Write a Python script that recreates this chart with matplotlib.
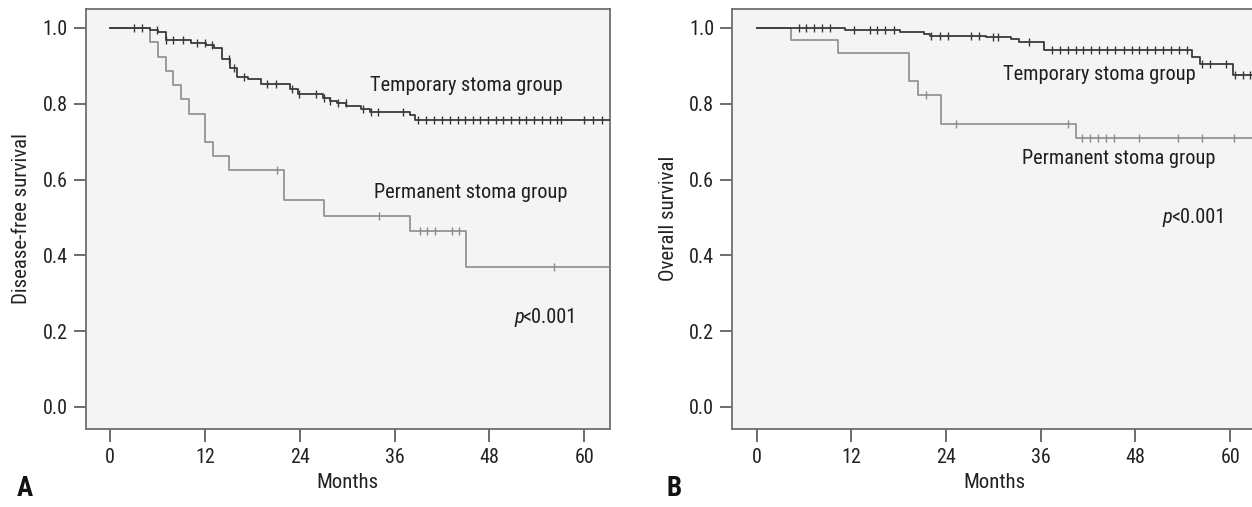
import os
import numpy as np
import matplotlib
matplotlib.use("Agg")
import matplotlib.pyplot as plt
from matplotlib import font_manager as fm
from matplotlib.font_manager import FontProperties

# ---------------- data ----------------
# Panel A: disease-free survival
a_temp_times = [0, 5.0, 6.1, 7.0, 10.2, 12.1, 13.1, 14.1, 15.2, 16.1, 17.5, 19.1,
                22.8, 23.8, 26.9, 27.8, 28.7, 29.9, 31.8, 32.9, 37.9, 38.6]
a_temp_surv = [1.0, 0.995, 0.988, 0.968, 0.959, 0.955, 0.946, 0.917, 0.893, 0.871,
               0.864, 0.851, 0.838, 0.825, 0.814, 0.808, 0.801, 0.794, 0.787, 0.778,
               0.770, 0.758]
a_temp_cens = [3.0, 4.0, 5.9, 7.1, 8.0, 9.2, 11.0, 12.0, 12.9, 15.0, 15.7, 16.9,
               19.9, 21.0, 23.0, 23.9, 26.0, 27.0, 27.8, 28.8, 29.8, 32.0, 33.0, 33.9,
               37.1, 39.0, 40.0, 41.0, 42.0, 43.0, 44.0, 44.9, 45.9, 46.8, 47.8, 48.8,
               49.7, 50.7, 51.7, 52.6, 53.6, 54.6, 55.6, 56.6, 57.1, 60.0, 61.1, 62.2]
a_temp_end = 64

a_perm_times = [0, 5, 6, 7, 8, 9, 10, 12, 13, 15, 22, 27, 38, 45]
a_perm_surv = [1.0, 0.964, 0.924, 0.887, 0.849, 0.812, 0.773, 0.698, 0.662, 0.624,
               0.545, 0.505, 0.464, 0.369]
a_perm_cens = [21.1, 34.0, 39.2, 40.1, 41.1, 43.2, 44.2, 56.1]
a_perm_end = 64

# Panel B: overall survival
b_temp_times = [0, 11.2, 18.2, 21.2, 22.0, 29.0, 32.2, 33.3, 36.4, 55.2, 56.2, 60.3]
b_temp_surv = [1.0, 0.995, 0.989, 0.984, 0.979, 0.975, 0.970, 0.964, 0.942, 0.924,
               0.906, 0.875]
b_temp_cens = [5.3, 6.3, 7.3, 8.3, 9.3, 12.3, 14.3, 15.3, 16.3, 17.4, 22.1, 23.2,
               24.2, 27.2, 28.2, 29.9, 30.6, 34.5, 37.4, 38.4, 39.4, 40.4, 41.4, 42.4,
               43.4, 44.4, 45.4, 46.5, 47.5, 48.5, 49.5, 50.5, 51.5, 52.5, 53.5, 54.5,
               56.4, 57.4, 59.5, 60.6, 61.6, 62.5]
b_temp_end = 64

b_perm_times = [0, 4.3, 10.3, 19.35, 20.4, 23.3, 40.4]
b_perm_surv = [1.0, 0.968, 0.933, 0.860, 0.824, 0.747, 0.709]
b_perm_cens = [21.4, 25.3, 39.4, 41.2, 42.2, 43.3, 44.3, 45.3, 48.4, 53.4, 56.4, 60.5]
b_perm_end = 64

x_ticks = [0, 12, 24, 36, 48, 60]
y_ticks = [0.0, 0.2, 0.4, 0.6, 0.8, 1.0]

# ---------------- fonts ----------------
files = {os.path.basename(f.fname).lower(): f.fname for f in fm.fontManager.ttflist}


def pick(cands):
    for c in cands:
        if c.lower() in files:
            return files[c.lower()]
    return None


reg = pick(['LiberationSansNarrow-Regular.ttf', 'RobotoCondensed-Regular.ttf',
            'DejaVuSansCondensed.ttf', 'NotoSans-CondensedRegular.ttf',
            'NotoSans-Condensed.ttf', 'OpenSans-CondensedRegular.ttf'])
ita = pick(['LiberationSansNarrow-Italic.ttf', 'RobotoCondensed-Italic.ttf',
            'DejaVuSansCondensed-Oblique.ttf', 'NotoSans-CondensedItalic.ttf'])
bld = pick(['LiberationSansNarrow-Bold.ttf', 'RobotoCondensed-Bold.ttf',
            'DejaVuSansCondensed-Bold.ttf', 'NotoSans-CondensedBold.ttf'])

names = {f.name for f in fm.fontManager.ttflist}
base_fam = 'Roboto' if 'Roboto' in names else ('Liberation Sans' if 'Liberation Sans' in names else 'DejaVu Sans')


def fp(size, style='regular'):
    path = {'regular': reg, 'italic': ita or reg, 'bold': bld or reg}[style]
    if path is not None:
        p = FontProperties(fname=path, size=size)
    else:
        p = FontProperties(family=base_fam, size=size,
                           style='italic' if style == 'italic' else 'normal',
                           weight='bold' if style == 'bold' else 'normal')
    return p


TEMP_C = '#3a3a3a'
PERM_C = '#8c8c8c'
AX_BG = '#f4f4f4'
SPINE_C = '#6e6e6e'
TXT_C = '#1e1e1e'

W, H = 1252, 507
fig = plt.figure(figsize=(W / 100, H / 100), dpi=100)
fig.patch.set_facecolor('white')

# scale font sizes so that text widths match the reference
renderer = fig.canvas.get_renderer()
probe = fig.text(0, 0, 'Permanent stoma group', fontproperties=fp(15))
w_probe = probe.get_window_extent(renderer).width
probe.remove()
k = 193.0 / w_probe
S_ANN = 15 * k
S_TICK = 14.8 * k
S_LAB = 15.5 * k
S_PAN = 20 * k


def km(ax, times, surv, end, cens, color, lw):
    t = list(times) + [end]
    s = list(surv) + [surv[-1]]
    ax.step(t, s, where='post', color=color, lw=lw, zorder=3)
    idx = np.searchsorted(np.array(times), np.array(cens), side='right') - 1
    cy = np.array(surv)[idx]
    ax.plot(cens, cy, ls='none', marker='|', ms=6, mew=1.0, color=color, zorder=4)


def style(ax, ylabel):
    ax.set_facecolor(AX_BG)
    ax.set_xlim(-3.1, 63.25)
    ax.set_ylim(-0.057, 1.05)
    ax.set_xticks(x_ticks)
    ax.set_xticklabels([str(v) for v in x_ticks])
    ax.set_yticks(y_ticks)
    ax.set_yticklabels([f"{v:.1f}" for v in y_ticks])
    for lab in ax.get_xticklabels() + ax.get_yticklabels():
        lab.set_fontproperties(fp(S_TICK))
        lab.set_color('#222222')
    for sp in ax.spines.values():
        sp.set_color(SPINE_C)
        sp.set_linewidth(1.3)
    ax.tick_params(axis='both', direction='out', length=9, width=1.1,
                   color='#444444', pad=4)
    ax.tick_params(axis='x', pad=5)
    ax.set_xlabel('Months', fontproperties=fp(S_LAB), color='#222222', labelpad=4)
    ax.set_ylabel(ylabel, fontproperties=fp(S_LAB), color='#222222', labelpad=8)


def ptext(ax, x, y):
    t1 = ax.text(x, y, 'p', fontproperties=fp(S_ANN, 'italic'), va='center', ha='left', color=TXT_C)
    bb = t1.get_window_extent(renderer)
    inv = ax.transData.inverted()
    x2 = inv.transform((bb.x1 - 1, 0))[0]
    ax.text(x2, y, '<0.001', fontproperties=fp(S_ANN), va='center', ha='left', color=TXT_C)


axA = fig.add_axes([85.7 / W, 78.5 / H, (610 - 85.7) / W, (498 - 78.5) / H])
axB = fig.add_axes([732.3 / W, 78.5 / H, (1255.8 - 732.3) / W, (498 - 78.5) / H])

for ax in (axA, axB):
    ax.set_xlim(-3.1, 63.25)
    ax.set_ylim(-0.057, 1.05)

km(axA, a_perm_times, a_perm_surv, a_perm_end, a_perm_cens, PERM_C, 1.2)
km(axA, a_temp_times, a_temp_surv, a_temp_end, a_temp_cens, TEMP_C, 1.3)
style(axA, 'Disease-free survival')
axA.text(32.9, 0.849, 'Temporary stoma group', fontproperties=fp(S_ANN), va='center', ha='left', color=TXT_C)
axA.text(33.4, 0.566, 'Permanent stoma group', fontproperties=fp(S_ANN), va='center', ha='left', color=TXT_C)
ptext(axA, 51.1, 0.237)

km(axB, b_perm_times, b_perm_surv, b_perm_end, b_perm_cens, PERM_C, 1.2)
km(axB, b_temp_times, b_temp_surv, b_temp_end, b_temp_cens, TEMP_C, 1.3)
style(axB, 'Overall survival')
axB.text(31.2, 0.878, 'Temporary stoma group', fontproperties=fp(S_ANN), va='center', ha='left', color=TXT_C)
axB.text(33.6, 0.655, 'Permanent stoma group', fontproperties=fp(S_ANN), va='center', ha='left', color=TXT_C)
ptext(axB, 51.4, 0.50)

fig.text(17 / W, 5 / H, 'A', fontproperties=fp(S_PAN, 'bold'), ha='left', va='bottom', color='#111111')
fig.text(666 / W, 5 / H, 'B', fontproperties=fp(S_PAN, 'bold'), ha='left', va='bottom', color='#111111')

fig.savefig('out.png', dpi=100, facecolor='white')
